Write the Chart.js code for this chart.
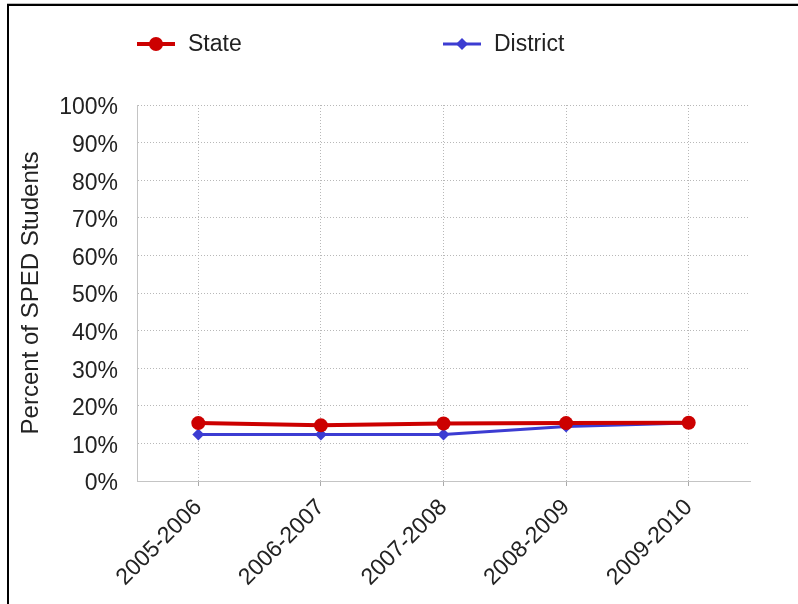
<!DOCTYPE html>
<html>
<head>
<meta charset="utf-8">
<script src="https://cdn.jsdelivr.net/npm/chart.js@4/dist/chart.umd.min.js"></script>
<style>
  html, body { margin: 0; padding: 0; background: #fff; }
  #wrap { position: relative; width: 798px; height: 604px; overflow: hidden; }
  #frame { position: absolute; left: 7px; top: 4px; right: -10px; bottom: -10px;
           border-left: 2px solid #000; border-top: 2px solid #000; pointer-events: none; }
  #frameShade { position: absolute; left: 7px; top: 3px; right: 0; height: 1px; background: #bbb; }
</style>
</head>
<body>
<div id="wrap">
  <canvas id="c" width="798" height="604"></canvas>
  <div id="frameShade"></div>
  <div id="frame"></div>
</div>
<script>
const categories = ['2005-2006', '2006-2007', '2007-2008', '2008-2009', '2009-2010'];
const stateValues = [15.4, 14.8, 15.3, 15.4, 15.5];
const districtValues = [12.4, 12.4, 12.4, 14.5, 15.4];
const seriesNames = ['State', 'District'];
const yTickValues = [0, 10, 20, 30, 40, 50, 60, 70, 80, 90, 100];
const yAxisTitle = 'Percent of SPED Students';

const RED = '#cc0000';
const BLUE = '#3c3cd2';
const TEXT = '#222222';
const FONT = "'Liberation Sans', Arial, sans-serif";

const legendPlugin = {
  id: 'lineLegend',
  afterDraw(chart) {
    const ctx = chart.ctx;
    const left = chart.chartArea.left;
    const y = 44;
    chart.data.datasets.forEach((ds, i) => {
      const x0 = left + i * 306;
      const cx = x0 + 19;
      ctx.save();
      ctx.strokeStyle = ds.borderColor;
      ctx.lineWidth = ds.borderWidth;
      ctx.beginPath();
      ctx.moveTo(x0, y);
      ctx.lineTo(x0 + 38, y);
      ctx.stroke();
      ctx.fillStyle = ds.backgroundColor;
      ctx.beginPath();
      const r = ds.legendRadius;
      if (ds.pointStyle === 'circle') {
        ctx.arc(cx, y, r, 0, Math.PI * 2);
      } else {
        ctx.moveTo(cx, y - r); ctx.lineTo(cx + r, y);
        ctx.lineTo(cx, y + r); ctx.lineTo(cx - r, y); ctx.closePath();
      }
      ctx.fill();
      ctx.fillStyle = TEXT;
      ctx.font = '23px ' + FONT;
      ctx.textAlign = 'left';
      ctx.textBaseline = 'middle';
      ctx.fillText(ds.label, x0 + 51, y + 1);
      ctx.restore();
    });
  }
};

new Chart(document.getElementById('c'), {
  type: 'line',
  data: {
    labels: categories,
    datasets: [
      {
        label: seriesNames[0],
        data: stateValues,
        borderColor: RED,
        backgroundColor: RED,
        borderWidth: 4,
        pointStyle: 'circle',
        pointRadius: 7,
        pointHoverRadius: 7,
        pointBorderWidth: 0,
        legendRadius: 7,
        tension: 0
      },
      {
        label: seriesNames[1],
        data: districtValues,
        borderColor: BLUE,
        backgroundColor: BLUE,
        borderWidth: 3,
        pointStyle: 'rectRot',
        pointRadius: 6,
        pointHoverRadius: 6,
        pointBorderWidth: 0,
        legendRadius: 6,
        tension: 0
      }
    ]
  },
  options: {
    responsive: false,
    animation: false,
    events: [],
    layout: { padding: { top: 105, right: 48, bottom: 0, left: 0 } },
    plugins: {
      legend: { display: false },
      tooltip: { enabled: false }
    },
    scales: {
      x: {
        type: 'category',
        offset: true,
        grid: {
          offset: false,
          color: '#b8b8b8',
          lineWidth: 1,
          drawTicks: true,
          tickLength: 5,
          tickColor: '#aaaaaa',
          tickBorderDash: []
        },
        border: { display: true, color: '#c4c4c4', width: 1, dash: [1, 2] },
        ticks: {
          color: TEXT,
          font: { family: FONT, size: 23 },
          maxRotation: 45,
          minRotation: 45,
          padding: 8,
          autoSkip: false
        },
        afterFit(scale) { scale.height = 123; }
      },
      y: {
        min: 0,
        max: 100,
        afterBuildTicks(scale) { scale.ticks = yTickValues.map(v => ({ value: v })); },
        grid: {
          color: '#b8b8b8',
          lineWidth: 1,
          drawTicks: false
        },
        border: { display: true, color: '#c4c4c4', width: 1, dash: [1, 2] },
        ticks: {
          color: TEXT,
          font: { family: FONT, size: 23 },
          padding: 19,
          labelOffset: 3,
          callback: v => v + '%'
        },
        title: {
          display: true,
          text: yAxisTitle,
          color: TEXT,
          font: { family: FONT, size: 24 },
          padding: { top: 17, bottom: 0 }
        },
        afterFit(scale) { scale.width = 137; }
      }
    }
  },
  plugins: [legendPlugin]
});
</script>
</body>
</html>
